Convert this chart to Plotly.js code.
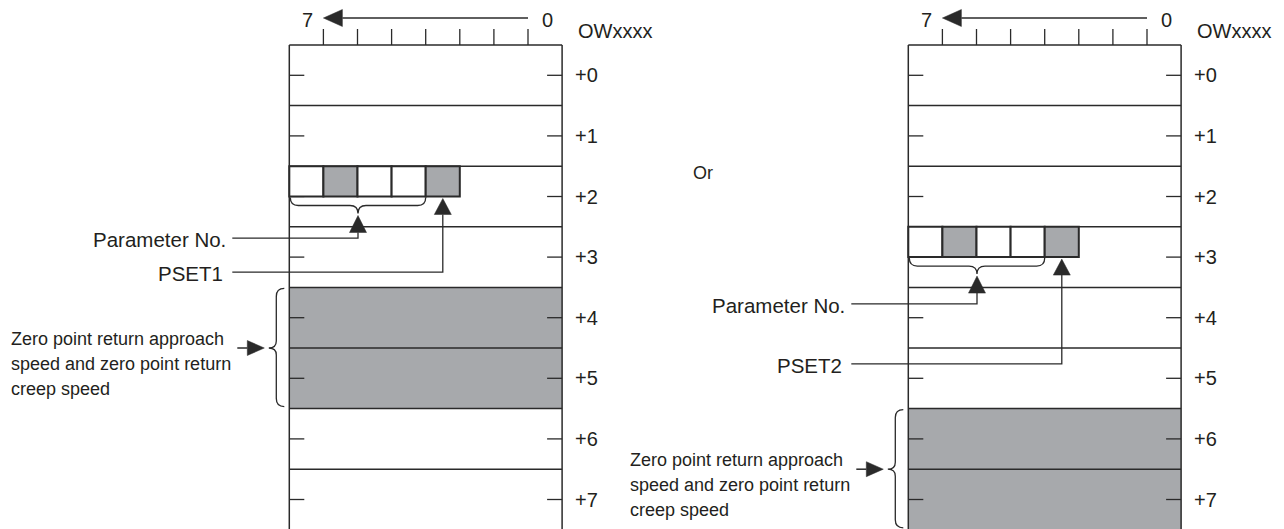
<!DOCTYPE html>
<html>
<head>
<meta charset="utf-8">
<script src="https://cdn.plot.ly/plotly-3.0.1.min.js"></script>
<style>html,body{margin:0;padding:0;background:#fff;}#chart{width:1284px;height:529px;}</style>
</head>
<body>
<div id="chart"></div>
<script>
// ---------- content data ----------
const registerLabels = ['+0', '+1', '+2', '+3', '+4', '+5', '+6', '+7'];
const bitEndLabels = ['7', '0'];            // MSB, LSB
const wordLabel = 'OWxxxx';
const cellBits = [7, 6, 5, 4, 3];           // bits drawn as cells
const cellShaded = [0, 1, 0, 0, 1];         // 1 = shaded cell
const paramBits = [7, 6, 5, 4];             // bits covered by "Parameter No." brace
const psetBit = 3;                          // PSET bit
const paramLabel = 'Parameter No.';
const psetLabels = ['PSET1', 'PSET2'];
const paramRows = [2, 3];                   // register row holding the cells, per diagram
const shadedRows = [[4, 5], [6, 7]];        // shaded register rows, per diagram
const zeroLines = ['Zero point return approach', 'speed and zero point return', 'creep speed'];
const orLabel = 'Or';

// ---------- geometry (layout only) ----------
const OX = [289.3, 908.3];   // left edge of each register box
const CW = 34.1;             // bit cell width
const TOP = 45;              // top of box
const RH = 60.6;             // register row height
const INK = '#2a2a2a';
const GREY = '#a7a9ac';
const FONT = '"Liberation Sans", Arial, Helvetica, sans-serif';
const PARAM_LINE_DY = [72, 77];
const PSET_LINE_DY = [106, 137];
const TXT_DY = 0;

function edge(d, k) { return OX[d] + k * CW; }          // k-th bit boundary from left
function bitL(d, b) { return edge(d, 7 - b); }
function bitR(d, b) { return edge(d, 8 - b); }
function ry(r) { return TOP + r * RH; }

const shapes = [];
const annotations = [];
function line(x0, y0, x1, y1, w) {
  shapes.push({type: 'line', xref: 'x', yref: 'y', x0, y0, x1, y1, line: {color: INK, width: w || 1.5}});
}
function path(p, fill, w) {
  shapes.push({type: 'path', xref: 'x', yref: 'y', path: p,
    fillcolor: fill || 'rgba(0,0,0,0)', line: {color: INK, width: fill ? 0.5 : (w || 1.5)}});
}
function txt(text, x, y, size, xanchor) {
  annotations.push({text, x, y: y + TXT_DY, xref: 'x', yref: 'y', showarrow: false,
    xanchor: xanchor || 'left', yanchor: 'middle', font: {family: FONT, size, color: '#231f20'}});
}
function f(n) { return n.toFixed(1); }

for (let d = 0; d < 2; d++) {
  const ox = OX[d], right = edge(d, 8), bottom = ry(registerLabels.length);

  // shaded register rows
  shadedRows[d].forEach(r => {
    shapes.push({type: 'rect', xref: 'x', yref: 'y', x0: ox, x1: right, y0: ry(r), y1: ry(r + 1),
      fillcolor: GREY, line: {width: 0}, layer: 'below'});
  });

  // row separator lines and box sides
  registerLabels.forEach((lab, r) => {
    line(ox, ry(r), right, ry(r));
    const yc = ry(r) + RH / 2;
    line(ox, yc, ox + 15, yc, 1.3);
    line(right - 15, yc, right, yc, 1.3);
    txt(lab, right + 11, yc, 20, 'left');
  });
  line(ox, TOP, ox, bottom);
  line(right, TOP, right, bottom);

  // bit ticks above the box
  for (let k = 1; k <= 7; k++) line(edge(d, k), TOP - 16, edge(d, k), TOP, 1.3);

  // bit direction arrow (0 -> 7)
  const ay = 18, tip = edge(d, 1), base = tip + 19;
  line(edge(d, 7), ay, base, ay, 1.5);
  path(`M ${f(tip)},${ay} L ${f(base)},${ay - 8.5} L ${f(base)},${ay + 8.5} Z`, INK);
  txt(bitEndLabels[0], ox + 18, 20, 20, 'center');
  txt(bitEndLabels[1], edge(d, 7.5) + 2, 20, 20, 'center');
  txt(wordLabel, right + 14, 31, 20, 'left');

  // bit cells
  const cTop = ry(paramRows[d]), cBot = cTop + RH / 2;
  cellBits.forEach((b, i) => {
    shapes.push({type: 'rect', xref: 'x', yref: 'y', x0: bitL(d, b), x1: bitR(d, b), y0: cTop, y1: cBot,
      fillcolor: cellShaded[i] ? GREY : '#ffffff', line: {color: INK, width: 2}});
  });

  // brace under Parameter No. bits
  const bx0 = bitL(d, Math.max(...paramBits)) + 1, bx1 = bitR(d, Math.min(...paramBits));
  const bxm = (bx0 + bx1) / 2, byT = cBot + 1, byH = cBot + 9, byP = cBot + 17;
  path(`M ${f(bx0)},${f(byT)} Q ${f(bx0)},${f(byH)} ${f(bx0 + 8)},${f(byH)} L ${f(bxm - 8)},${f(byH)} ` +
       `Q ${f(bxm)},${f(byH)} ${f(bxm)},${f(byP)} Q ${f(bxm)},${f(byH)} ${f(bxm + 8)},${f(byH)} ` +
       `L ${f(bx1 - 8)},${f(byH)} Q ${f(bx1)},${f(byH)} ${f(bx1)},${f(byT)}`, null, 1.3);

  // Parameter No. arrow + leader
  const pTip = byP + 2, pBase = pTip + 17, pLine = cTop + PARAM_LINE_DY[d];
  path(`M ${f(bxm - 8.5)},${f(pBase)} L ${f(bxm)},${f(pTip)} L ${f(bxm + 8.5)},${f(pBase)} Z`, INK);
  path(`M ${f(bxm)},${f(pBase)} L ${f(bxm)},${f(pLine)} L ${f(ox - 57)},${f(pLine)}`, null, 1.3);
  txt(paramLabel, ox - 61, pLine + 1.5, 20.5, 'right');

  // PSET arrow + leader
  const sx = (bitL(d, psetBit) + bitR(d, psetBit)) / 2;
  const sTip = cBot + 2, sBase = sTip + 16, sLine = cTop + PSET_LINE_DY[d];
  path(`M ${f(sx - 8.5)},${f(sBase)} L ${f(sx)},${f(sTip)} L ${f(sx + 8.5)},${f(sBase)} Z`, INK);
  path(`M ${f(sx)},${f(sBase)} L ${f(sx)},${f(sLine)} L ${f(ox - 57)},${f(sLine)}`, null, 1.3);
  txt(psetLabels[d], ox - 64, sLine + 1.5, 20.5, 'right');

  // brace beside shaded rows
  const rs = shadedRows[d];
  const gT = ry(rs[0]) + 1, gB = ry(rs[rs.length - 1] + 1) - 2, gM = (ry(rs[0]) + ry(rs[rs.length - 1] + 1)) / 2;
  const xc = ox - 13, xp = ox - 20.5, xcurl = ox - 5;
  path(`M ${f(xcurl)},${f(gT)} Q ${f(xc)},${f(gT)} ${f(xc)},${f(gT + 8)} L ${f(xc)},${f(gM - 7)} ` +
       `Q ${f(xc)},${f(gM)} ${f(xp)},${f(gM)} Q ${f(xc)},${f(gM)} ${f(xc)},${f(gM + 7)} ` +
       `L ${f(xc)},${f(gB - 8)} Q ${f(xc)},${f(gB)} ${f(xcurl)},${f(gB)}`, null, 1.3);
  const gTip = ox - 25, gBase = gTip - 17;
  line(ox - 52, gM, gBase, gM, 1.5);
  path(`M ${f(gBase)},${f(gM - 7.5)} L ${f(gTip)},${f(gM)} L ${f(gBase)},${f(gM + 7.5)} Z`, INK);
  zeroLines.forEach((t, i) => txt(t, ox - 280, gM - 9 + 25 * i, 18, 'left'));
}

txt(orLabel, 703, 173, 18, 'center');

const layout = {
  width: 1284, height: 529,
  margin: {l: 0, r: 0, t: 0, b: 0},
  paper_bgcolor: '#ffffff', plot_bgcolor: '#ffffff',
  showlegend: false,
  xaxis: {range: [0, 1284], visible: false, fixedrange: true},
  yaxis: {range: [529, 0], visible: false, fixedrange: true},
  shapes, annotations
};
Plotly.newPlot('chart', [{x: [], y: [], type: 'scatter', mode: 'markers', hoverinfo: 'skip'}], layout,
  {displayModeBar: false, staticPlot: true});
</script>
</body>
</html>
